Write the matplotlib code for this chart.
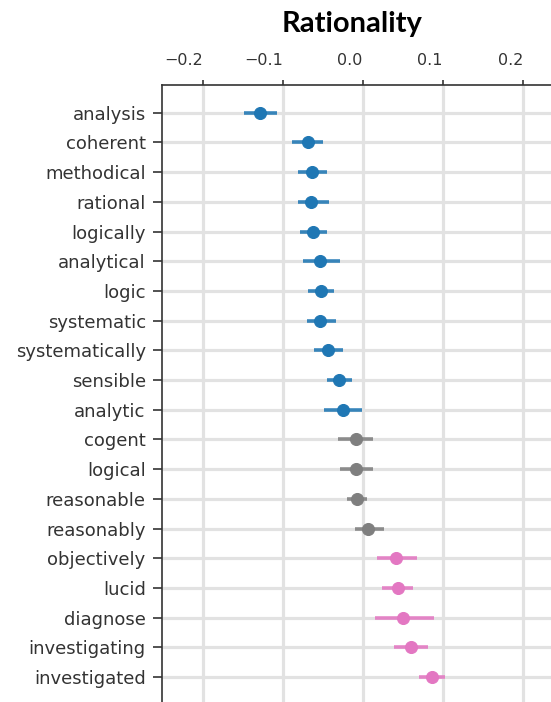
import matplotlib
matplotlib.use("Agg")
import matplotlib.pyplot as plt

words = ["analysis", "coherent", "methodical", "rational", "logically", "analytical",
         "logic", "systematic", "systematically", "sensible", "analytic", "cogent",
         "logical", "reasonable", "reasonably", "objectively", "lucid", "diagnose",
         "investigating", "investigated"]
means = [-0.128, -0.069, -0.064, -0.0645, -0.0628, -0.0533, -0.0524, -0.0533, -0.0433,
         -0.0296, -0.025, -0.0087, -0.0087, -0.0067, 0.007, 0.0416, 0.0437, 0.0507,
         0.0603, 0.0861]
lower = [-0.148, -0.0885, -0.0816, -0.0816, -0.079, -0.075, -0.068, -0.070, -0.0608,
         -0.045, -0.049, -0.0305, -0.0283, -0.0192, -0.0096, 0.0175, 0.0245, 0.0154,
         0.0387, 0.0707]
upper = [-0.107, -0.0495, -0.0449, -0.0424, -0.045, -0.0287, -0.0358, -0.0333, -0.0242,
         -0.013, -0.0012, 0.0125, 0.0125, 0.0058, 0.0266, 0.068, 0.0632, 0.089,
         0.082, 0.1027]
groups = ["neg"] * 11 + ["neutral"] * 4 + ["pos"] * 5
group_colors = {"neg": "#1f77b4", "neutral": "#7f7f7f", "pos": "#e377c2"}
xticks = [-0.2, -0.1, 0.0, 0.1, 0.2]
xticklabels = ["\u22120.2", "\u22120.1", "0.0", "0.1", "0.2"]
title = "Rationality"

W, H = 551, 702
fig = plt.figure(figsize=(W / 100, H / 100), dpi=100)
left_px, top_px = 161.7, 85
ax = fig.add_axes([left_px / W, 0, 1 - left_px / W, 1 - top_px / H])

ys = list(range(len(words)))
for i, (m, lo, hi, g) in enumerate(zip(means, lower, upper, groups)):
    c = group_colors[g]
    ax.plot([lo, hi], [i, i], color=c, lw=2.6, alpha=0.88, solid_capstyle="butt", zorder=3)
    ax.plot([m], [i], "o", color=c, ms=8.6, mec=c, mew=0.8, zorder=4)

ax.set_xlim(-0.2513, 0.2351)
ax.set_ylim(19.84, -0.933)
ax.set_yticks(ys)
ax.set_yticklabels(words, fontsize=13, color="#333333")
ax.xaxis.tick_top()
ax.set_xticks(xticks)
ax.set_xticklabels(xticklabels, fontsize=11.5, color="#333333", ha="right")
ax.tick_params(axis="x", length=3.5, width=1.2, pad=8.5, color="#333333")
ax.tick_params(axis="y", length=6.5, width=1.2, pad=5.0, color="#333333")

ax.grid(True, color="#e2e2e2", lw=2.3, zorder=0)
ax.set_axisbelow(True)
for s in ["right", "bottom"]:
    ax.spines[s].set_visible(False)
for s in ["left", "top"]:
    ax.spines[s].set_color("#333333")
    ax.spines[s].set_linewidth(1.2)

fig.text(351.7 / W, 1 - 31.7 / H, title, ha="center", va="baseline",
         fontsize=21, fontweight="bold", family=["Lato", "DejaVu Sans"])

fig.savefig("out.png", dpi=100)
